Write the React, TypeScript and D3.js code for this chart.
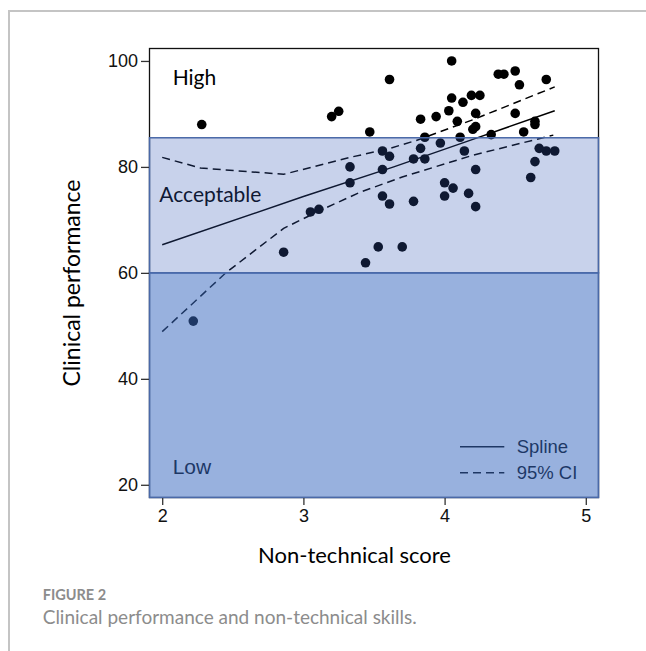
import React, { useEffect, useRef } from 'react';
import * as d3 from 'd3';

// observed scores (non-technical score, clinical performance)
const ntsScores = [
  2.28, 3.20, 3.25, 3.61, 4.05, 3.47, 4.38, 4.42, 4.50, 4.53,
  4.72, 4.05, 4.13, 4.19, 4.25, 4.03, 3.94, 3.83, 4.09, 4.22,
  4.50, 4.64, 4.64, 4.22, 4.20, 4.56, 4.33, 3.86, 4.11, 3.97,
  3.83, 3.56, 3.61, 3.78, 3.86, 4.14, 4.67, 4.72, 4.78, 4.64,
  4.61, 4.22, 3.33, 3.33, 3.56, 4.00, 4.06, 4.00, 4.17, 4.22,
  3.56, 3.61, 3.78, 3.05, 3.11, 2.86, 3.53, 3.70, 3.44, 2.22
];
const perfScores = [
  88.0, 89.5, 90.5, 96.5, 100, 86.6, 97.5, 97.5, 98.1, 95.5,
  96.5, 93.0, 92.2, 93.5, 93.5, 90.6, 89.5, 89.0, 88.6, 90.1,
  90.1, 88.6, 88.0, 87.6, 87.1, 86.6, 86.1, 85.6, 85.6, 84.5,
  83.5, 83.0, 82.0, 81.5, 81.5, 83.0, 83.5, 83.0, 83.0, 81.0,
  78.0, 79.5, 80.0, 77.0, 79.5, 77.0, 76.0, 74.5, 75.0, 72.5,
  74.5, 73.0, 73.5, 71.5, 72.0, 63.9, 64.9, 64.9, 61.9, 50.9
];

// fitted spline and its 95% CI
const splineX = [2.0, 3.0, 3.64, 4.2, 4.78];
const splineY = [65.3, 74.4, 80.0, 85.2, 90.6];
const upperX = [2.0, 2.27, 2.86, 3.33, 3.6, 3.8, 4.2, 4.78];
const upperY = [81.8, 79.8, 78.6, 81.8, 83.4, 85.0, 88.9, 95.1];
const lowerX = [2.0, 2.45, 2.86, 3.12, 3.4, 3.7, 4.2, 4.77];
const lowerY = [48.9, 60.0, 68.4, 71.8, 75.2, 78.1, 82.2, 86.0];

const xTicks = [2, 3, 4, 5];
const yTicks = [20, 40, 60, 80, 100];
const lowCut = 60;
const highCut = 85.5;

const W = 646;
const H = 651;

function Chart() {
  const ref = useRef(null);

  useEffect(() => {
    const x = d3.scaleLinear().domain([1.91, 5.09]).range([149.5, 598.5]);
    const y = d3.scaleLinear().domain([17.6, 102.35]).range([497.5, 48.5]);
    const [x0, x1] = x.range();
    const [y0, y1] = y.range();

    const svg = d3.select(ref.current);
    svg.selectAll('*').remove();

    // page frame
    svg.append('line').attr('x1', 8).attr('x2', W).attr('y1', 11).attr('y2', 11)
      .attr('stroke', '#c4c4c4').attr('stroke-width', 2);
    svg.append('line').attr('x1', 9).attr('x2', 9).attr('y1', 10).attr('y2', H)
      .attr('stroke', '#c4c4c4').attr('stroke-width', 2);

    svg.append('rect')
      .attr('x', x0).attr('y', y1).attr('width', x1 - x0).attr('height', y0 - y1)
      .attr('fill', '#fff').attr('stroke', '#111').attr('stroke-width', 1.3);

    const pts = ntsScores.map((d, i) => [d, perfScores[i]]);
    svg.append('g').selectAll('circle').data(pts).join('circle')
      .attr('cx', d => x(d[0])).attr('cy', d => y(d[1])).attr('r', 4.8)
      .attr('fill', '#000');

    const line = d3.line().x(d => x(d[0])).y(d => y(d[1]));
    const curve = (xs, ys) => xs.map((d, i) => [d, ys[i]]);

    svg.append('path').attr('d', line(curve(splineX, splineY)))
      .attr('fill', 'none').attr('stroke', '#000').attr('stroke-width', 1.5);
    [curve(upperX, upperY), curve(lowerX, lowerY)].forEach(c => {
      svg.append('path').attr('d', line(c))
        .attr('fill', 'none').attr('stroke', '#000').attr('stroke-width', 1.5)
        .attr('stroke-dasharray', '8,5');
    });

    // band labels
    svg.append('text').attr('x', 172.7).attr('y', 85).text('High')
      .attr('font-family', 'Lato').attr('font-size', 21).attr('fill', '#000');
    svg.append('text').attr('x', 159.3).attr('y', 201.7).text('Acceptable')
      .attr('font-family', 'Lato').attr('font-size', 21).attr('fill', '#000');
    svg.append('text').attr('x', 172.7).attr('y', 474).text('Low')
      .attr('font-family', 'Liberation Sans').attr('font-size', 21).attr('fill', '#000');

    // legend
    const leg = svg.append('g').attr('font-family', 'Liberation Sans').attr('font-size', 18.5);
    leg.append('line').attr('x1', 460).attr('x2', 504.3).attr('y1', 446.7).attr('y2', 446.7)
      .attr('stroke', '#000').attr('stroke-width', 1.5);
    leg.append('line').attr('x1', 460).attr('x2', 504.3).attr('y1', 472.7).attr('y2', 472.7)
      .attr('stroke', '#000').attr('stroke-width', 1.5).attr('stroke-dasharray', '8,5');
    leg.append('text').attr('x', 516.7).attr('y', 453.3).text('Spline');
    leg.append('text').attr('x', 516.7).attr('y', 479.3).text('95% CI');

    // translucent bands on top
    svg.append('rect')
      .attr('x', x0).attr('y', y(highCut)).attr('width', x1 - x0).attr('height', y(lowCut) - y(highCut))
      .attr('fill', 'rgb(55,91,182)').attr('fill-opacity', 0.275)
      .attr('stroke', '#4a69a8').attr('stroke-width', 1.5);
    svg.append('rect')
      .attr('x', x0).attr('y', y(lowCut)).attr('width', x1 - x0).attr('height', y0 - y(lowCut))
      .attr('fill', 'rgb(58,106,192)').attr('fill-opacity', 0.52)
      .attr('stroke', '#4a69a8').attr('stroke-width', 1.5);

    // axes
    const yAxis = svg.append('g').attr('transform', `translate(${x0 - 0.5},0)`)
      .call(d3.axisLeft(y).tickValues(yTicks).tickFormat(d3.format('d')).tickSize(8).tickPadding(3).tickSizeOuter(0));
    yAxis.select('.domain').remove();
    yAxis.selectAll('text').attr('font-family', 'Liberation Sans').attr('font-size', 18).attr('fill', '#111');
    yAxis.selectAll('line').attr('stroke', '#333').attr('stroke-width', 1.3);

    const xAxis = svg.append('g').attr('transform', `translate(0,${y0 + 0.5})`)
      .call(d3.axisBottom(x).tickValues(xTicks).tickFormat(d3.format('d')).tickSize(7).tickPadding(4).tickSizeOuter(0));
    xAxis.select('.domain').remove();
    xAxis.selectAll('text').attr('font-family', 'Liberation Sans').attr('font-size', 18).attr('fill', '#111');
    xAxis.selectAll('line').attr('stroke', '#333').attr('stroke-width', 1.3);

    svg.append('text')
      .attr('transform', 'translate(79.5,283) rotate(-90)')
      .attr('text-anchor', 'middle')
      .attr('font-family', 'Lato').attr('font-size', 23).attr('fill', '#000')
      .text('Clinical performance');
    svg.append('text')
      .attr('x', 354.5).attr('y', 563.3).attr('text-anchor', 'middle')
      .attr('font-family', 'Lato').attr('font-size', 22).attr('fill', '#000')
      .text('Non-technical score');

    svg.append('text').attr('x', 42.7).attr('y', 600).text('FIGURE 2')
      .attr('font-family', 'Lato').attr('font-size', 14.5).attr('font-weight', 'bold').attr('fill', '#8c8c8c');
    svg.append('text').attr('x', 42.7).attr('y', 624).text('Clinical performance and non-technical skills.')
      .attr('font-family', 'Lato').attr('font-size', 19).attr('fill', '#8c8c8c');
  }, []);

  return <svg ref={ref} width={W} height={H} style={{ position: 'absolute', left: 0, top: 0, background: '#fff' }} />;
}

export default function App() {
  return <Chart />;
}
